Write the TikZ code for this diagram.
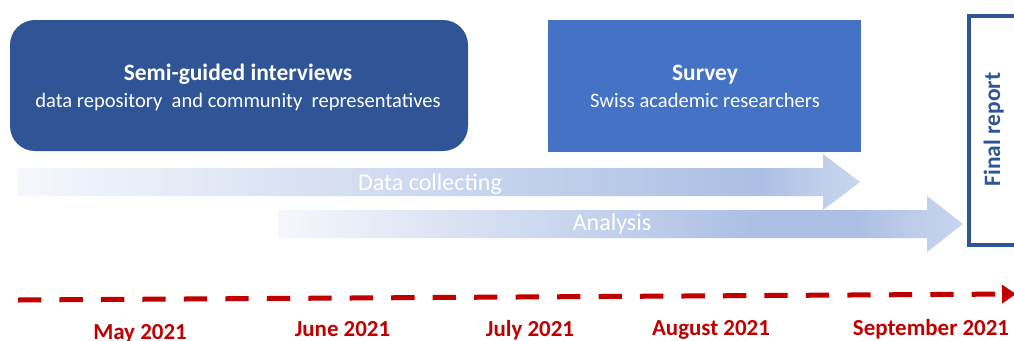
\documentclass[tikz,border=0pt]{standalone}
\usepackage{fontspec}
\setmainfont{Carlito}
\usetikzlibrary{arrows.meta}
\definecolor{boxdark}{HTML}{2F5597}
\definecolor{boxmid}{HTML}{4472C4}
\definecolor{tlred}{HTML}{C00000}
\definecolor{gA}{HTML}{F5F7FC}
\definecolor{gB}{HTML}{ABBFE4}
\definecolor{gC}{HTML}{BFCEEA}
\definecolor{gD}{HTML}{C8D5EE}
\pgfdeclarehorizontalshading{shadeA}{100bp}{color(0bp)=(gA); color(25bp)=(gA); color(69bp)=(gB); color(72.5bp)=(gC); color(75bp)=(gD); color(100bp)=(gD)}
\pgfdeclarehorizontalshading{shadeB}{100bp}{color(0bp)=(gA); color(25bp)=(gA); color(60bp)=(gB); color(67bp)=(gB); color(72bp)=(gC); color(75bp)=(gD); color(100bp)=(gD)}
\tikzset{
  titletxt/.style={font=\bfseries\fontsize{17.6}{20}\selectfont, text=white, anchor=base, inner sep=0pt},
  subtxt/.style={font=\fontsize{15.4}{18}\selectfont, text=white, anchor=base, inner sep=0pt},
  arrowtxt/.style={font=\fontsize{18}{20}\selectfont, text=white, anchor=base, inner sep=0pt},
  monthtxt/.style={font=\bfseries\fontsize{17.2}{20}\selectfont, text=tlred, anchor=base, inner sep=0pt},
}
\begin{document}
\begin{tikzpicture}[x=0.75pt,y=-0.75pt]
\useasboundingbox (0,0) rectangle (1014,340);
\clip (0,0) rectangle (1014,340);
% boxes
\path[fill=boxdark, rounded corners=18.75pt] (10,20) rectangle (468,151);
\coordinate (box1) at (239,85.5);
\path[fill=boxmid] (548,20) rectangle (861,152);
\coordinate (box2) at (704.5,86);
\node[titletxt] (t1) at (238,80) {Semi-guided interviews};
\node[subtxt] (s1) at (238,107) {data repository\ \ and community\ \ representatives};
\node[titletxt] (t2) at (705,80) {Survey};
\node[subtxt] (s2) at (705,107) {Swiss academic researchers};
% final report
\draw[boxdark, line width=3pt, fill=white] (969,16) rectangle (1040,245);
\node[font=\bfseries\fontsize{17.6}{20}\selectfont, text=boxdark, rotate=90, anchor=base, inner sep=0pt] (fr) at (1000,129.5) {Final report};
% arrows
\shade[shading=shadeA] (18,168) -- (823,168) -- (823,154) -- (860,182) -- (823,210) -- (823,196) -- (18,196) -- cycle;
\node[arrowtxt] (dc) at (430,190) {Data collecting};
\shade[shading=shadeB] (278,210) -- (927,210) -- (927,196) -- (963,224) -- (927,252) -- (927,238) -- (278,238) -- cycle;
\node[arrowtxt] (an) at (612,230.5) {Analysis};
% timeline
\coordinate (tl0) at (18,300);
\coordinate (tl1) at (1016,294);
\draw[tlred, line width=3.75pt, dash pattern=on 17.5pt off 13.6pt, -{Triangle[length=10.5pt,width=13.5pt]}] (tl0) -- (tl1);
\node[monthtxt] (m1) at (140,339) {May 2021};
\node[monthtxt] (m2) at (342.5,336.5) {June 2021};
\node[monthtxt] (m3) at (530,336) {July 2021};
\node[monthtxt] (m4) at (711,335.5) {August 2021};
\node[monthtxt] (m5) at (931,335.5) {September 2021};
\end{tikzpicture}
\end{document}
